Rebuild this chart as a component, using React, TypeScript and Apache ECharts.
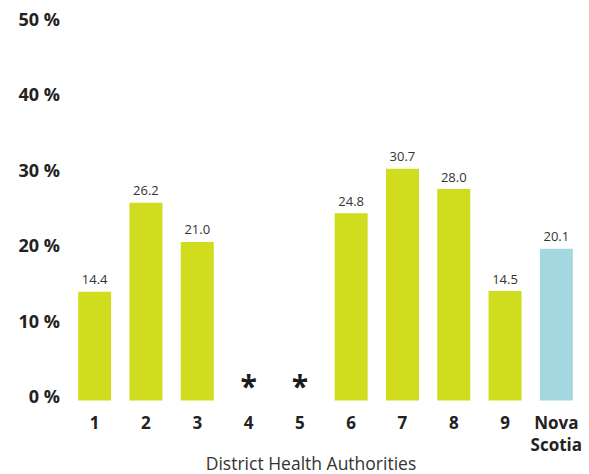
import React, { useEffect, useRef } from "react";
import * as echarts from "echarts";

// District Health Authorities and the provincial total
const categories = ["1", "2", "3", "4", "5", "6", "7", "8", "9", "Nova\nScotia"];
// Percentages; null = value suppressed (shown as *)
const values: (number | null)[] = [14.4, 26.2, 21.0, null, null, 24.8, 30.7, 28.0, 14.5, 20.1];
const yTicks = [0, 10, 20, 30, 40, 50];
const axisTitle = "District Health Authorities";

const GREEN = "#d0dc1e";
const BLUE = "#a3d9de";
const FONT = "'Open Sans', 'DejaVu Sans', sans-serif";

export default function App() {
  const ref = useRef<HTMLDivElement>(null);

  useEffect(() => {
    document.body.style.margin = "0";
    if (!ref.current) return;
    const chart = echarts.init(ref.current, null, { renderer: "svg" });

    const data = values.map((v, i) => {
      const isTotal = i === categories.length - 1;
      if (v === null) {
        return {
          value: 0,
          itemStyle: { color: "transparent" },
          label: {
            show: true,
            position: "top",
            formatter: "*",
            fontSize: 30,
            fontWeight: "bold",
            color: "#1a1a1a",
            distance: 0,
          },
        };
      }
      return {
        value: v,
        itemStyle: { color: isTotal ? BLUE : GREEN },
      };
    });

    chart.setOption({
      animation: false,
      textStyle: { fontFamily: FONT },
      grid: { left: 69, right: 7, top: 23, bottom: 73.5, containLabel: false },
      xAxis: {
        type: "category",
        data: categories,
        axisLine: { show: false },
        axisTick: { show: false },
        axisLabel: {
          fontSize: 17,
          fontWeight: "bold",
          color: "#222",
          margin: 11,
          lineHeight: 22,
          interval: 0,
        },
      },
      yAxis: {
        type: "value",
        min: yTicks[0],
        max: yTicks[yTicks.length - 1],
        interval: 10,
        splitLine: { show: false },
        axisLine: { show: false },
        axisTick: { show: false },
        axisLabel: {
          fontSize: 18,
          fontWeight: "bold",
          color: "#222",
          margin: 9,
          verticalAlign: "bottom",
          lineHeight: 9,
          formatter: (v: number) => `${v} %`,
        },
      },
      series: [
        {
          type: "bar",
          data,
          barWidth: 33,
          label: {
            show: true,
            position: "top",
            distance: 6,
            fontSize: 13,
            color: "#333",
            formatter: (p: any) => (p.value === null ? "" : Number(p.value).toFixed(1)),
          },
        },
      ],
      graphic: [
        {
          type: "text",
          x: 311,
          y: 463,
          style: {
            text: axisTitle,
            fontSize: 17.5,
            fill: "#333",
            fontFamily: FONT,
            align: "center",
            verticalAlign: "middle",
          },
        },
      ],
    });

    return () => chart.dispose();
  }, []);

  return <div ref={ref} style={{ width: 589, height: 474 }} />;
}
